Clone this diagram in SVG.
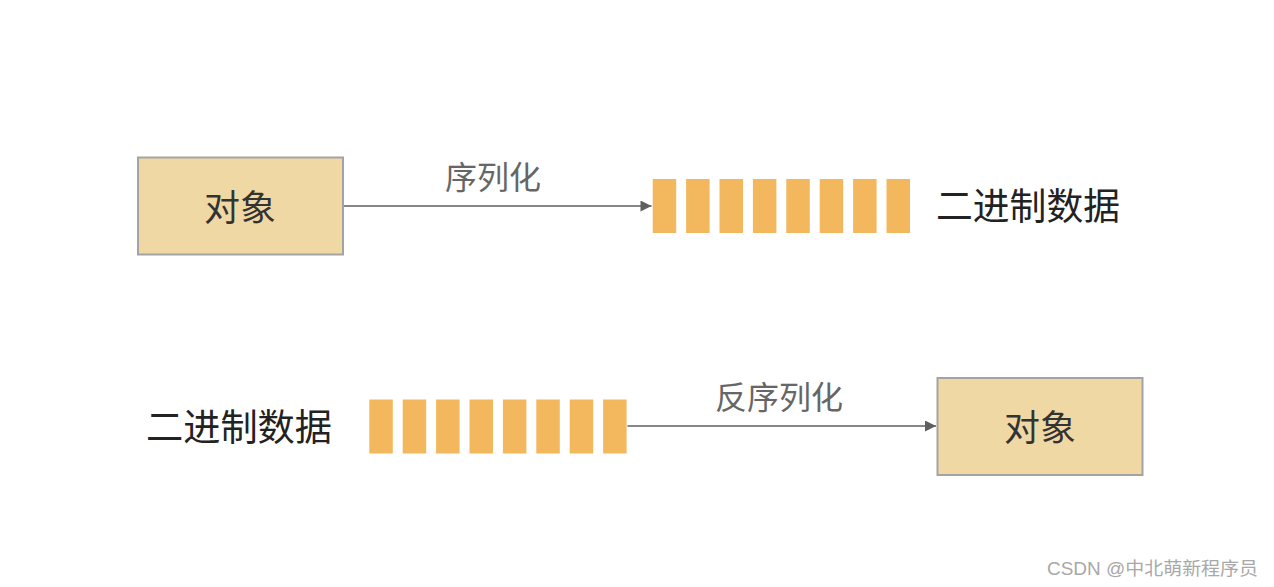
<svg xmlns="http://www.w3.org/2000/svg" width="1274" height="587" viewBox="0 0 1274 587">
  <defs>
    <style>
      .box { fill: #F0D8A4; stroke: #A3A3A3; stroke-width: 2; }
      .bar { fill: #F3B85E; }
      .t { font-family: "Noto Sans CJK SC", "Noto Sans", "Liberation Sans", sans-serif; }
      .node { font-size: 36px; fill: #333333; text-anchor: middle; }
      .data { font-size: 37px; fill: #222222; }
      .lbl { font-size: 32px; fill: #666666; text-anchor: middle; }
      .edge { stroke: #5F5F5F; stroke-width: 1.6; fill: none; }
      .wm { font-family: "Liberation Sans", "Noto Sans CJK SC", sans-serif; font-size: 18px; fill: #A8A8A8; }
    </style>
    <marker id="arr" viewBox="0 0 10 10" refX="10" refY="5" markerWidth="14" markerHeight="11" markerUnits="userSpaceOnUse" orient="auto">
      <path d="M0,0 L10,5 L0,10 Z" fill="#5F5F5F"/>
    </marker>
    <g id="bars">
      <rect class="bar" x="0" y="0" width="23.5" height="54"/>
      <rect class="bar" x="33.4" y="0" width="23.5" height="54"/>
      <rect class="bar" x="66.8" y="0" width="23.5" height="54"/>
      <rect class="bar" x="100.2" y="0" width="23.5" height="54"/>
      <rect class="bar" x="133.6" y="0" width="23.5" height="54"/>
      <rect class="bar" x="167" y="0" width="23.5" height="54"/>
      <rect class="bar" x="200.4" y="0" width="23.5" height="54"/>
      <rect class="bar" x="233.8" y="0" width="23.5" height="54"/>
    </g>
  </defs>
  <rect width="1274" height="587" fill="#FFFFFF"/>

  <g id="connectors">
    <line class="edge" x1="344" y1="206" x2="651.5" y2="206" marker-end="url(#arr)"/>
    <text class="t lbl" x="493" y="189">序列化</text>
    <line class="edge" x1="627.5" y1="426" x2="936" y2="426" marker-end="url(#arr)"/>
    <text class="t lbl" x="779" y="409">反序列化</text>
  </g>

  <g id="object-top">
    <rect class="box" x="138" y="157.5" width="205" height="97"/>
    <text class="t node" x="240" y="221">对象</text>
  </g>

  <g id="binary-top">
    <use href="#bars" x="652.7" y="179"/>
    <text class="t data" x="936" y="220" textLength="184" lengthAdjust="spacingAndGlyphs">二进制数据</text>
  </g>

  <g id="binary-bottom">
    <text class="t data" x="146" y="441" textLength="186" lengthAdjust="spacingAndGlyphs">二进制数据</text>
    <use href="#bars" x="369.3" y="399.5"/>
  </g>

  <g id="object-bottom">
    <rect class="box" x="937.5" y="378" width="205" height="97"/>
    <text class="t node" x="1040" y="441">对象</text>
  </g>

  <g id="watermark">
    <text class="wm" x="1047" y="575" textLength="211" lengthAdjust="spacingAndGlyphs">CSDN @中北萌新程序员</text>
  </g>
</svg>
